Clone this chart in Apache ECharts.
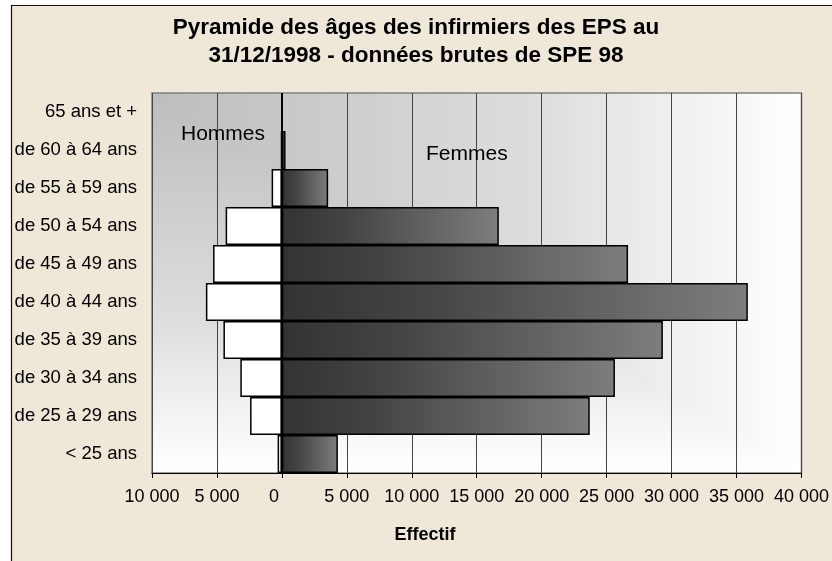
<!DOCTYPE html>
<html>
<head>
<meta charset="utf-8">
<script src="https://cdn.jsdelivr.net/npm/echarts@6/dist/echarts.min.js"></script>
<style>
html,body{margin:0;padding:0;background:#fff;}
#c{width:832px;height:561px;}
</style>
</head>
<body>
<div id="c"></div>
<script>
// Data (bottom to top on the category axis)
const categories = ['< 25 ans', 'de 25 à 29 ans', 'de 30 à 34 ans', 'de 35 à 39 ans', 'de 40 à 44 ans',
  'de 45 à 49 ans', 'de 50 à 54 ans', 'de 55 à 59 ans', 'de 60 à 64 ans', '65 ans et +'];
const hommes = [-330, -2450, -3200, -4500, -5850, -5300, -4330, -790, -60, -10];
const femmes = [4310, 23700, 25640, 29330, 35870, 26650, 16700, 3560, 280, 30];
const xTicks = { min: -10000, max: 40000, interval: 5000 };
const titleText = 'Pyramide des âges des infirmiers des EPS au\n31/12/1998 - données brutes de SPE 98';
const axisTitle = 'Effectif';
const labelHommes = 'Hommes';
const labelFemmes = 'Femmes';

const G = { left: 152, top: 93, width: 650, height: 380 };
const FONT = '"Liberation Sans", Arial, sans-serif';

function fmt(v) {
  if (v === 0) return '{z|0}';
  return String(Math.abs(v)).replace(/\B(?=(\d{3})+(?!\d))/g, ' ');
}
const bgStops = [
  { offset: 0, color: '#bdbdbd' },
  { offset: 0.6, color: '#dedede' },
  { offset: 0.8, color: '#efefef' },
  { offset: 1, color: '#ffffff' }
];

const chart = echarts.init(document.getElementById('c'), null, { renderer: 'canvas' });
chart.setOption({
  animation: false,
  backgroundColor: '#ffffff',
  textStyle: { fontFamily: FONT },
  title: {
    text: titleText,
    left: 'center',
    top: 9,
    textStyle: { fontFamily: FONT, fontSize: 22.5, fontWeight: 'bold', color: '#000', lineHeight: 28 }
  },
  graphic: [
    { type: 'rect', z: -10, shape: { x: 11.5, y: 5.5, width: 840, height: 570 },
      style: { fill: '#efe7d8', stroke: '#111', lineWidth: 1.2 } },
    { type: 'rect', z: -5, shape: { x: G.left, y: G.top, width: G.width, height: G.height },
      style: { fill: { type: 'linear', x: 0, y: 0, x2: 0, y2: 1, colorStops: bgStops } } },
    { type: 'polygon', z: -4,
      shape: { points: [[G.left, G.top], [G.left + G.width, G.top], [G.left + G.width, G.top + G.height]] },
      style: { fill: { type: 'linear', x: 0, y: 0, x2: 1, y2: 0, colorStops: bgStops } } },
    { type: 'text', z: 10, style: { text: labelHommes, x: 181, y: 134, textVerticalAlign: 'middle',
      font: '21px ' + FONT, fill: '#000' } },
    { type: 'text', z: 10, style: { text: labelFemmes, x: 426, y: 154, textVerticalAlign: 'middle',
      font: '21px ' + FONT, fill: '#000' } },
    { type: 'text', z: 10, style: { text: axisTitle, x: 425, y: 535, textAlign: 'center', textVerticalAlign: 'middle',
      font: 'bold 18px ' + FONT, fill: '#000' } }
  ],
  grid: { left: G.left, top: G.top, width: G.width, height: G.height, show: true,
    borderColor: '#808080', borderWidth: 1.5, backgroundColor: 'transparent', containLabel: false },
  xAxis: {
    type: 'value', min: xTicks.min, max: xTicks.max, interval: xTicks.interval,
    axisLine: { show: true, onZero: false, lineStyle: { color: '#000', width: 1 } },
    axisTick: { show: true, length: 5, lineStyle: { color: '#000' } },
    axisLabel: { formatter: fmt, fontSize: 18, color: '#000', margin: 15, fontFamily: FONT,
      rich: { z: { fontSize: 18, color: '#000', fontFamily: FONT, padding: [0, 16, 0, 0] } } },
    splitLine: { show: true, lineStyle: { color: '#444', width: 1 } }
  },
  yAxis: {
    type: 'category', data: categories,
    axisLine: { show: false }, axisTick: { show: false },
    axisLabel: { fontSize: 18.5, color: '#000', margin: 15, fontFamily: FONT },
    splitLine: { show: false }
  },
  series: [
    { name: 'Hommes', type: 'bar', data: hommes, barGap: '-100%', barCategoryGap: '0%',
      itemStyle: { color: '#ffffff', borderColor: '#000', borderWidth: 1.5 } },
    { name: 'Femmes', type: 'bar', data: femmes, barGap: '-100%', barCategoryGap: '0%',
      itemStyle: { color: { type: 'linear', x: 0, y: 0, x2: 1, y2: 0,
        colorStops: [{ offset: 0, color: '#333333' }, { offset: 0.3, color: '#444444' }, { offset: 1, color: '#7d7d7d' }] },
        borderColor: '#000', borderWidth: 1.5 },
      markLine: { silent: true, symbol: 'none', label: { show: false },
        lineStyle: { color: '#000', width: 2, type: 'solid' }, data: [{ xAxis: 0 }] } }
  ]
});
</script>
</body>
</html>
